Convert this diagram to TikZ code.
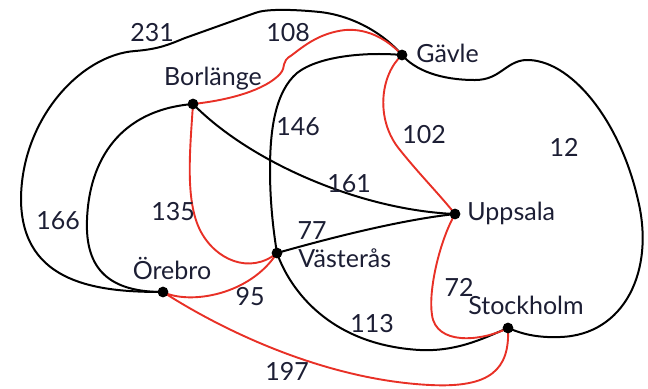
\documentclass[tikz,border=0pt]{standalone}
\usepackage{fontspec}
\setmainfont{Lato}
\definecolor{redroute}{RGB}{232,48,38}
\definecolor{labelink}{RGB}{28,30,52}
\begin{document}
\begin{tikzpicture}[x=0.5pt,y=-0.5pt,
  city/.style={circle,fill=black,inner sep=0pt,minimum size=5.4pt},
  road/.style={line width=1pt,black},
  route/.style={line width=0.95pt,redroute},
  txt/.style={inner sep=0pt,text=labelink,font=\fontsize{12.5}{15}\selectfont}]
\useasboundingbox (0,0) rectangle (648,388);

% city positions
\coordinate (gav) at (402,55);
\coordinate (bor) at (193,104);
\coordinate (upp) at (455,214);
\coordinate (vas) at (277,253);
\coordinate (ore) at (163,292);
\coordinate (sto) at (508,328);

% black roads
\draw[road] (ore) .. controls (100,292) and (22,285) .. (21,200)
  .. controls (21,120) and (80,55) .. (135,51)
  .. controls (160,49) and (170,44) .. (185,38) -- (255,13)
  .. controls (265,9) and (290,9) .. (320,12)
  .. controls (355,16) and (385,35) .. (gav);
\draw[road] (ore) .. controls (110,292) and (85,270) .. (87,220)
  .. controls (89,160) and (120,110) .. (bor);
\draw[road] (bor) .. controls (250,162) and (360,210) .. (upp);
\draw[road] (gav) .. controls (370,52) and (320,55) .. (297,73)
  .. controls (275,92) and (270,130) .. (270,170)
  .. controls (270,205) and (274,235) .. (vas);
\draw[road] (vas) .. controls (330,238) and (400,220) .. (upp);
\draw[road] (vas) .. controls (290,290) and (330,345) .. (420,350)
  .. controls (460,352) and (490,335) .. (sto);
\draw[road] (gav) .. controls (415,70) and (440,80) .. (475,80)
  .. controls (500,80) and (505,62) .. (525,60)
  .. controls (570,58) and (620,120) .. (638,200)
  .. controls (655,270) and (625,335) .. (560,337)
  .. controls (535,338) and (520,333) .. (sto);

% red routes
\draw[route] (bor) .. controls (230,100) and (265,90) .. (280,74)
  .. controls (287,66) and (280,62) .. (292,55)
  .. controls (305,45) and (320,33) .. (345,30)
  .. controls (370,28) and (390,42) .. (gav);
\draw[route] (gav) .. controls (380,75) and (375,120) .. (400,150)
  .. controls (420,175) and (440,195) .. (upp);
\draw[route] (upp) .. controls (440,240) and (428,290) .. (432,315)
  .. controls (436,345) and (480,342) .. (sto);
\draw[route] (bor) .. controls (190,150) and (185,200) .. (200,230)
  .. controls (215,260) and (250,275) .. (vas);
\draw[route] (ore) .. controls (190,305) and (250,295) .. (vas);
\draw[route] (ore) .. controls (230,335) and (330,380) .. (430,385)
  .. controls (490,388) and (510,370) .. (sto);

% cities
\node[city] (Gavle) at (gav) {};
\node[city] (Borlange) at (bor) {};
\node[city] (Uppsala) at (upp) {};
\node[city] (Vasteras) at (vas) {};
\node[city] (Orebro) at (ore) {};
\node[city] (Stockholm) at (sto) {};

% city names
\node[txt,anchor=west] (tGavle) at (416,53) {Gävle};
\node[txt] (tBorlange) at (213,79) {Borlänge};
\node[txt,anchor=west] (tUppsala) at (467,213) {Uppsala};
\node[txt,anchor=west] (tVasteras) at (298,258) {Västerås};
\node[txt] (tOrebro) at (172,268) {Örebro};
\node[txt] (tStockholm) at (526,305) {Stockholm};

% distances
\node[txt] (d231) at (152,33) {231};
\node[txt] (d108) at (288,33) {108};
\node[txt] (d146) at (298,127) {146};
\node[txt] (d102) at (424,135) {102};
\node[txt] (d12) at (564,147) {12};
\node[txt] (d161) at (349,184) {161};
\node[txt] (d166) at (58,221) {166};
\node[txt] (d135) at (173,212) {135};
\node[txt] (d77) at (312,231) {77};
\node[txt] (d95) at (250,297) {95};
\node[txt] (d197) at (287,371) {197};
\node[txt] (d72) at (459,287) {72};
\node[txt] (d113) at (372,324) {113};
\end{tikzpicture}
\end{document}
